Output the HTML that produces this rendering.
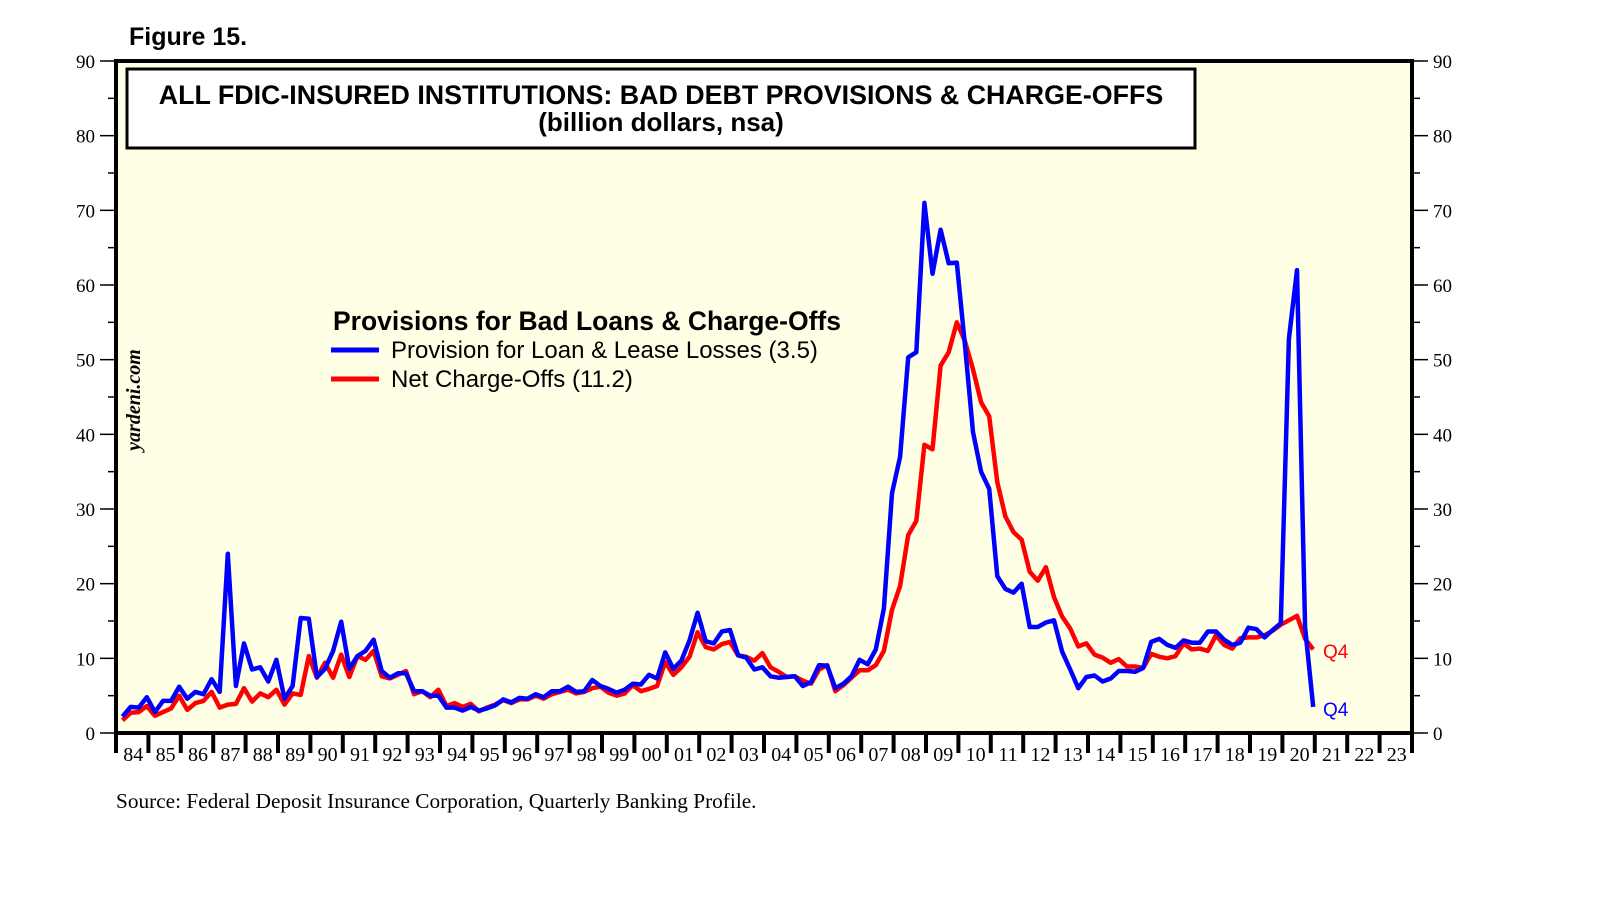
<!DOCTYPE html>
<html><head><meta charset="utf-8"><style>
body{margin:0;background:#fff;}
svg{display:block;}
</style></head><body>
<svg id="chart" width="1610" height="910" xmlns="http://www.w3.org/2000/svg">
<text x="129" y="45" font-family="Liberation Sans, sans-serif" font-weight="bold" font-size="25">Figure 15.</text>
<rect x="116" y="61" width="1296" height="672" fill="#ffffe6" stroke="#000" stroke-width="4"/>
<rect x="127" y="69" width="1068" height="79" fill="#fff" stroke="#000" stroke-width="3"/>
<text x="661" y="104" text-anchor="middle" font-family="Liberation Sans, sans-serif" font-weight="bold" font-size="26.8">ALL FDIC-INSURED INSTITUTIONS: BAD DEBT PROVISIONS &amp; CHARGE-OFFS</text>
<text x="661" y="131" text-anchor="middle" font-family="Liberation Sans, sans-serif" font-weight="bold" font-size="26">(billion dollars, nsa)</text>
<text transform="translate(140,400) rotate(-90)" text-anchor="middle" font-family="Liberation Serif, serif" font-style="italic" font-weight="bold" font-size="20">yardeni.com</text>
<g id="axes"></g>
<g id="series"></g>
<text x="333" y="330" font-family="Liberation Sans, sans-serif" font-weight="bold" font-size="26.5">Provisions for Bad Loans &amp; Charge-Offs</text>
<line x1="331" y1="350" x2="379" y2="350" stroke="#0000ff" stroke-width="5"/>
<text x="391" y="358" font-family="Liberation Sans, sans-serif" font-size="24">Provision for Loan &amp; Lease Losses (3.5)</text>
<line x1="331" y1="379" x2="379" y2="379" stroke="#ff0000" stroke-width="5"/>
<text x="391" y="387" font-family="Liberation Sans, sans-serif" font-size="24">Net Charge-Offs (11.2)</text>
<text x="1323" y="658" font-family="Liberation Sans, sans-serif" font-size="19" fill="#ff0000">Q4</text>
<text x="1323" y="716" font-family="Liberation Sans, sans-serif" font-size="19" fill="#0000ff">Q4</text>
<text x="116" y="808" font-family="Liberation Serif, serif" font-size="21.3">Source: Federal Deposit Insurance Corporation, Quarterly Banking Profile.</text>
</svg>
<script>
const yearLabels = ["84","85","86","87","88","89","90","91","92","93","94","95","96","97","98","99","00","01","02","03","04","05","06","07","08","09","10","11","12","13","14","15","16","17","18","19","20","21","22","23"];
const yTicks = [0,10,20,30,40,50,60,70,80,90];
const provisions = [2.2,3.5,3.4,4.8, 2.8,4.3,4.3,6.2, 4.6,5.5,5.2,7.2, 5.5,24,6.3,12.0, 8.5,8.8,6.9,9.8, 4.6,6.3,15.4,15.3, 7.5,8.6,11.0,14.9, 8.6,10.3,11.0,12.5, 8.3,7.4,8.0,8.0, 5.6,5.6,5.0,5.0, 3.4,3.4,3.0,3.5, 3.0,3.3,3.7,4.5, 4.1,4.7,4.6,5.2, 4.8,5.6,5.6,6.2, 5.5,5.6,7.1,6.3, 5.9,5.4,5.8,6.6, 6.5,7.8,7.3,10.8, 8.6,9.7,12.4,16.1, 12.3,12.0,13.6,13.8, 10.4,10.1,8.5,8.8, 7.6,7.4,7.5,7.6, 6.3,6.8,9.1,9.0, 6.0,6.6,7.6,9.8, 9.2,11.2,16.7,32.1, 37,50.3,51,71, 61.5,67.4,62.9,63, 52,40.3,35,32.7, 21,19.3,18.8,20, 14.2,14.2,14.8,15.1, 10.9,8.5,6.0,7.5, 7.7,6.9,7.3,8.3, 8.3,8.2,8.7,12.2, 12.6,11.8,11.4,12.4, 12.1,12.1,13.6,13.6, 12.5,11.8,12.1,14.1, 13.9,12.8,13.8,14.7, 52.8,62,14.1,3.5];
const chargeOffs = [1.7,2.7,2.8,3.6, 2.3,2.8,3.3,5.0, 3.1,4.0,4.3,5.5, 3.4,3.8,3.9,6.0, 4.2,5.3,4.8,5.8, 3.8,5.3,5.1,10.3, 7.4,9.4,7.4,10.5, 7.5,10.3,9.8,11.0, 7.6,7.3,7.8,8.3, 5.2,5.6,4.8,5.8, 3.6,4.0,3.5,3.9, 2.9,3.4,3.8,4.4, 4.0,4.5,4.5,5.0, 4.6,5.2,5.5,5.8, 5.3,5.5,6.0,6.2, 5.4,5.0,5.3,6.4, 5.6,5.9,6.3,9.5, 7.8,8.8,10.2,13.5, 11.5,11.2,11.9,12.2, 10.4,10.2,9.7,10.7, 8.8,8.2,7.5,7.6, 7.0,6.6,8.5,9.1, 5.6,6.4,7.4,8.4, 8.4,9.1,11.0,16.5, 19.7,26.5,28.4,38.6, 38.0,49.2,51,55, 52.5,48.7,44.3,42.4, 33.6,29.0,26.9,25.9, 21.6,20.4,22.2,18.2, 15.6,14.0,11.6,12.0, 10.5,10.1,9.4,9.9, 8.9,8.9,8.7,10.6, 10.2,10.0,10.3,12.0, 11.2,11.3,11.0,13.1, 11.8,11.3,12.7,12.8, 12.8,13.1,13.7,14.5, 15.1,15.7,12.6,11.2];

const NS = "http://www.w3.org/2000/svg";
const L = 116, R = 1412, T = 61, B = 733;
const yw = (R - L) / yearLabels.length;
function xq(i){ return L + (i + 0.8) * yw / 4; }
function yv(v){ return B - v * (B - T) / 90; }
function mk(tag, attrs, parent){ const e = document.createElementNS(NS, tag); for (const k in attrs) e.setAttribute(k, attrs[k]); parent.appendChild(e); return e; }
const axes = document.getElementById("axes");
yTicks.forEach(function(v){
  const y = yv(v);
  const t1 = mk("line", {x1:100, x2:116, y1:y, y2:y, stroke:"#000", "stroke-width":1.5}, axes);
  
  
  const t2 = mk("line", {x1:1412, x2:1428, y1:y, y2:y, stroke:"#000", "stroke-width":1.5}, axes);
  
  
  const a = mk("text", {x:95, y:y+7, "text-anchor":"end", "font-family":"Liberation Serif, serif", "font-size":19}, axes);
  a.textContent = v;
  
  
  const b = mk("text", {x:1433, y:y+7, "font-family":"Liberation Serif, serif", "font-size":19}, axes);
  b.textContent = v;
  
  
  if (v < 90) {
    const ym = yv(v + 5);
    const m1 = mk("line", {x1:108, x2:116, y1:ym, y2:ym, stroke:"#000", "stroke-width":1.5}, axes);
    
    
    const m2 = mk("line", {x1:1412, x2:1420, y1:ym, y2:ym, stroke:"#000", "stroke-width":1.5}, axes);
    
    
  }
});
for (let i = 0; i <= yearLabels.length; i++) {
  const x = L + i * yw;
  const t = mk("line", {x1:x, x2:x, y1:733, y2:753, stroke:"#000", "stroke-width":4}, axes);
  
  
  if (i < yearLabels.length) {
    const lb = mk("text", {x:x + yw/2 + 1, y:761, "text-anchor":"middle", "font-family":"Liberation Serif, serif", "font-size":20}, axes);
    lb.textContent = yearLabels[i];
    
    
  }
}
const series = document.getElementById("series");
function line(data, color, name){
  const d = data.map(function(v, i){ return (i ? "L" : "M") + xq(i).toFixed(1) + "," + yv(v).toFixed(1); }).join("");
  const p = mk("path", {d:d, fill:"none", stroke:color, "stroke-width":4.5, "stroke-linejoin":"round"}, series);
  
  
}
line(chargeOffs, "#ff0000", "net-charge-offs-line");
line(provisions, "#0000ff", "provisions-line");
</script>
</body></html>
